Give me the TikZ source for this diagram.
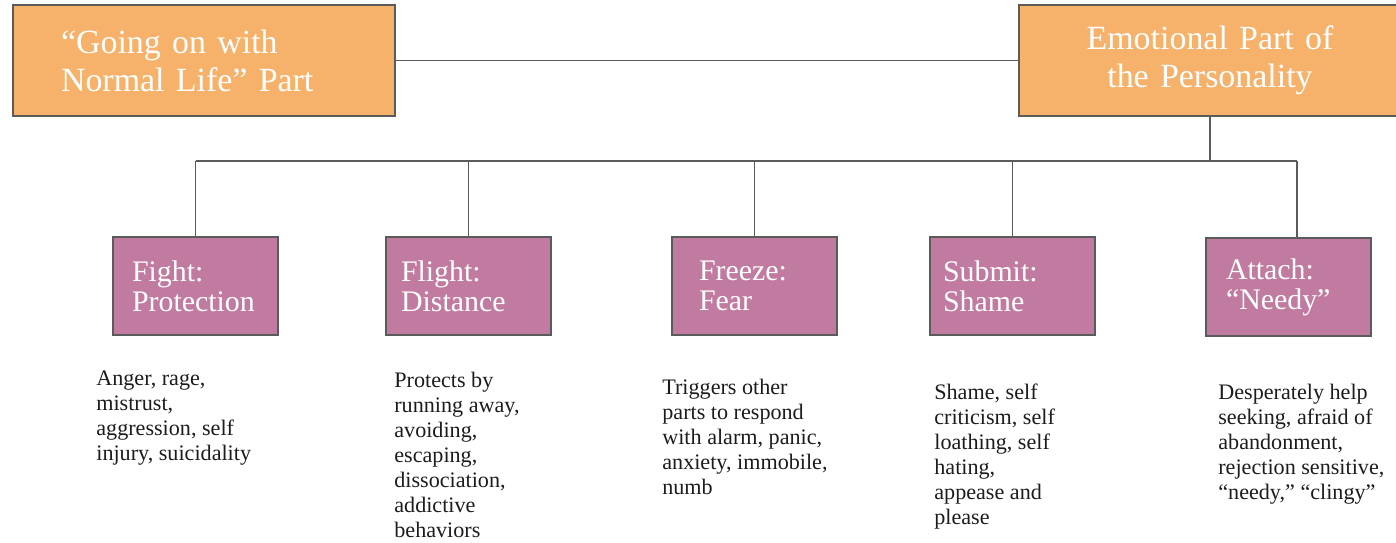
\documentclass[tikz,border=0pt]{standalone}
\usepackage{fontspec}
\setmainfont{Liberation Serif}
\definecolor{partorange}{HTML}{F6B26B}
\definecolor{partpink}{HTML}{C27BA0}
\definecolor{edgegray}{HTML}{5B5B5B}
\definecolor{notetext}{HTML}{1C1C1C}
\begin{document}
\begin{tikzpicture}[x=0.02cm,y=-0.02cm,
		topbox/.style={draw=edgegray,line width=1.2pt,fill=partorange,text=white,
			minimum width=7.64cm,minimum height=2.22cm,inner xsep=0.96cm,text width=5.72cm,
			font=\fontsize{19.3}{21.6}\selectfont},
		pinkbox/.style={draw=edgegray,line width=1.2pt,fill=partpink,text=white,
			minimum width=3.3cm,minimum height=1.96cm,align=left,
			font=\fontsize{17}{17}\selectfont},
		note/.style={anchor=north west,inner sep=0pt,align=left,text=notetext,
			font=\fontsize{12.6}{14.2}\selectfont},
		conn/.style={draw=edgegray,line width=1.1pt}]
				\clip (0,0) rectangle (1396,542);
				% top row
				\node[topbox,align=left] (normal) at (204,60.5) {``Going on with\\Normal Life'' Part};
				\node[topbox,align=center] (emo) at (1210,60.5) {Emotional Part of\\the Personality};
				% parts
				\node[pinkbox,inner xsep=0.38cm,text width=2.54cm] (fight) at (195.5,286) {Fight:\\Protection};
				\node[pinkbox,inner xsep=0.30cm,text width=2.70cm] (flight) at (468.5,286) {Flight:\\Distance};
				\node[pinkbox,inner xsep=0.54cm,text width=2.22cm] (freeze) at (754.5,286) {Freeze:\\Fear};
				\node[pinkbox,inner xsep=0.26cm,text width=2.78cm] (submit) at (1012.5,286) {Submit:\\Shame};
				\node[pinkbox,inner xsep=0.40cm,text width=2.50cm] (attach) at (1288.5,287) {Attach:\\``Needy''};
				% connectors
				\draw[conn] (normal) -- (emo);
				\draw[conn] (emo.south) -- ++(0,44) coordinate (hub);
				\draw[conn] (fight.north |- hub) -- ([xshift=0.17cm]attach.north |- hub);
				\foreach \p in {fight,flight,freeze,submit}
					\draw[conn] (\p.north) -- (\p.north |- hub);
				\draw[conn] ([xshift=0.17cm]attach.north) -- ([xshift=0.17cm]attach.north |- hub);
				% notes
				\node[note] (fightnote) at (96,371) {Anger, rage,\\mistrust,\\aggression, self\\injury, suicidality};
				\node[note] (flightnote) at (394,372) {Protects by\\running away,\\avoiding,\\escaping,\\dissociation,\\addictive\\behaviors};
				\node[note] (freezenote) at (662,379) {Triggers other\\parts to respond\\with alarm, panic,\\anxiety, immobile,\\numb};
				\node[note] (submitnote) at (934,384) {Shame, self\\criticism, self\\loathing, self\\hating,\\appease and\\please};
				\node[note] (attachnote) at (1218,384) {Desperately help\\seeking, afraid of\\abandonment,\\rejection sensitive,\\``needy,'' ``clingy''};
			\end{tikzpicture}
\end{document}
